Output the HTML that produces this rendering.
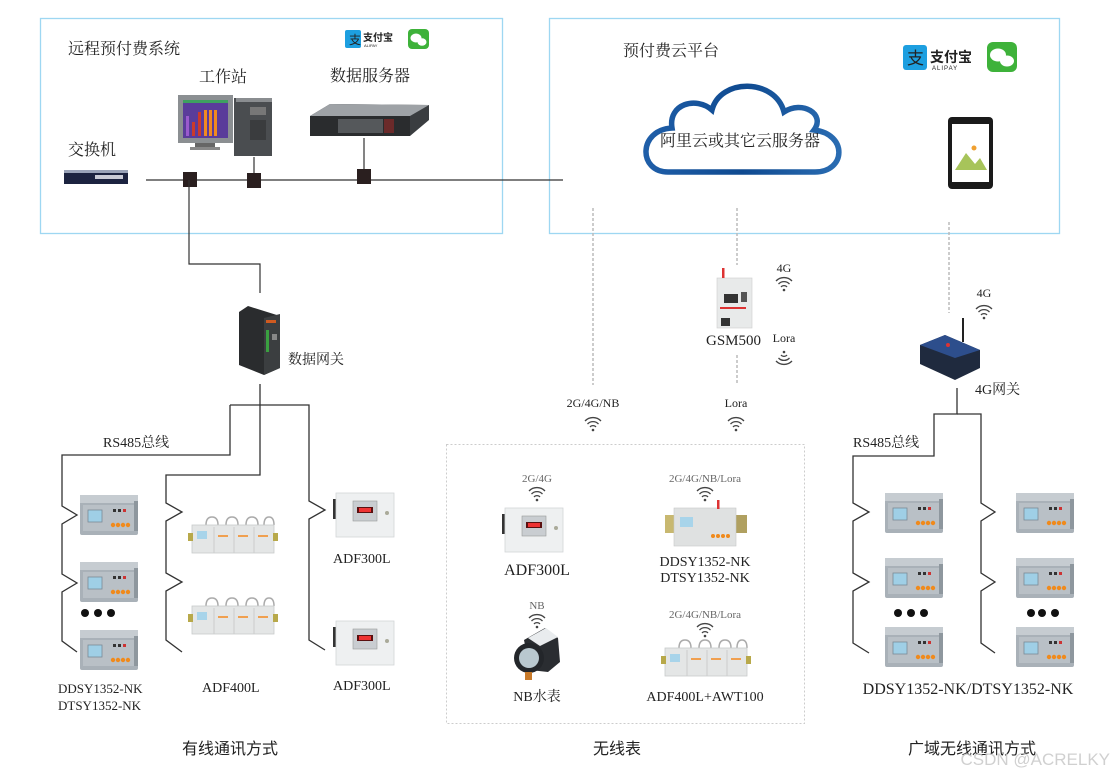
<!DOCTYPE html>
<html><head><meta charset="utf-8"><style>
html,body{margin:0;padding:0;background:#fff;}
svg{display:block;}
.cn{font-family:"Liberation Serif","Noto Serif CJK SC",serif;fill:#222;}
.cs{font-family:"Liberation Sans","Noto Sans CJK SC",sans-serif;fill:#222;}
.m{font-family:"Liberation Serif","Noto Serif CJK SC",serif;fill:#222;}
</style></head><body>
<svg width="1114" height="777" viewBox="0 0 1114 777" xmlns="http://www.w3.org/2000/svg">
<defs>
  <g id="meter">
    <rect x="0" y="0" width="58" height="40" rx="2" fill="#a9b1b8"/>
    <rect x="0" y="0" width="58" height="8" fill="#c6ccd1"/>
    <rect x="3" y="10" width="52" height="26" fill="#b9c0c6"/>
    <rect x="8" y="15" width="14" height="12" fill="#9fcfe6" stroke="#7a8a96" stroke-width="0.8"/>
    <rect x="33" y="14" width="3" height="3" fill="#333"/><rect x="38" y="14" width="3" height="3" fill="#333"/><rect x="43" y="14" width="3" height="3" fill="#c33"/>
    <circle cx="33" cy="30" r="2.2" fill="#f08a1c"/><circle cx="38" cy="30" r="2.2" fill="#f08a1c"/><circle cx="43" cy="30" r="2.2" fill="#f08a1c"/><circle cx="48" cy="30" r="2.2" fill="#f08a1c"/>
    <rect x="54" y="6" width="4" height="30" fill="#8e979e"/>
  </g>
  <g id="adf400">
    <path d="M18,8 q0,-8 6,-8 q6,0 6,8 M38,8 q0,-8 6,-8 q6,0 6,8 M58,8 q0,-8 6,-8 q6,0 6,8 M76,8 q0,-8 5,-8 q5,0 5,8" fill="none" stroke="#aaa" stroke-width="1.5"/>
    <rect x="4" y="8" width="82" height="28" fill="#e4e6e6" stroke="#c8cbcb" stroke-width="0.8"/>
    <rect x="0" y="16" width="5" height="8" fill="#b8a94a"/><rect x="85" y="16" width="5" height="8" fill="#b8a94a"/>
    <rect x="9" y="14" width="10" height="8" fill="#a8d4ea"/>
    <line x1="26" y1="10" x2="26" y2="36" stroke="#ccc"/><line x1="46" y1="10" x2="46" y2="36" stroke="#ccc"/><line x1="66" y1="10" x2="66" y2="36" stroke="#ccc"/>
    <rect x="30" y="18" width="10" height="2" fill="#f0a050"/><rect x="50" y="18" width="10" height="2" fill="#f0a050"/><rect x="70" y="18" width="10" height="2" fill="#f0a050"/>
  </g>
  <g id="adf300">
    <rect x="0" y="6" width="4" height="20" fill="#333"/>
    <rect x="3" y="0" width="58" height="44" fill="#eef0f1" stroke="#d3d6d8" stroke-width="0.8"/>
    <rect x="20" y="8" width="24" height="20" fill="#c9cdd1" stroke="#999" stroke-width="0.6"/>
    <rect x="24" y="14" width="16" height="6" fill="#5a1010"/>
    <rect x="26" y="15" width="12" height="4" fill="#e33"/>
    <circle cx="54" cy="20" r="2" fill="#aa9"/>
  </g>
  <g id="wifi" fill="none" stroke="#444" stroke-width="1.3">
    <path d="M-8,-3 A11,11 0 0 1 8,-3"/>
    <path d="M-5.5,0 A7.5,7.5 0 0 1 5.5,0"/>
    <path d="M-3,3 A4,4 0 0 1 3,3"/>
    <circle cx="0" cy="6" r="1.3" fill="#444" stroke="none"/>
  </g>
  <linearGradient id="cg" x1="0" x2="1"><stop offset="0" stop-color="#1f5ea8"/><stop offset="0.5" stop-color="#0f4a90"/><stop offset="1" stop-color="#2a6cb2"/></linearGradient>
</defs>

<rect x="40.5" y="18.5" width="462" height="215" fill="none" stroke="#9ed7f2" stroke-width="1.3"/>
<rect x="549.5" y="18.5" width="510" height="215" fill="none" stroke="#9ed7f2" stroke-width="1.3"/>

<text x="68" y="54" class="cn" font-size="16">远程预付费系统</text>
<text x="199" y="82" class="cn" font-size="16">工作站</text>
<text x="330" y="81" class="cn" font-size="16">数据服务器</text>
<text x="68" y="155" class="cn" font-size="16">交换机</text>
<rect x="345" y="30" width="16" height="18" rx="2" fill="#1d9fe0"/>
<text x="349" y="44" font-size="12" fill="#fff" class="cs">支</text>
<text x="363" y="41" font-size="10" class="cs" font-weight="bold">支付宝</text>
<text x="364" y="47" font-size="4" class="cs">ALIPAY</text>
<rect x="408" y="29" width="21" height="20" rx="4" fill="#3eb23a"/>
<ellipse cx="416" cy="38" rx="5.5" ry="4.5" fill="#fff"/><ellipse cx="422" cy="42" rx="4.5" ry="3.8" fill="#fff"/>
<rect x="64" y="171" width="64" height="13" fill="#1c2340"/>
<rect x="64" y="170" width="64" height="3" fill="#9aa3b8"/>
<rect x="95" y="175" width="28" height="4" fill="#c9cbd6"/>
<rect x="178" y="95" width="55" height="48" fill="#8b8f92"/>
<rect x="183" y="100" width="45" height="38" fill="#5a3c9a"/>
<rect x="186" y="116" width="3" height="20" fill="#9a5acd"/><rect x="192" y="122" width="3" height="14" fill="#cc3a2a"/><rect x="198" y="112" width="3" height="24" fill="#cc3a2a"/><rect x="204" y="110" width="3" height="26" fill="#f08a20"/><rect x="209" y="110" width="3" height="26" fill="#f08a20"/><rect x="214" y="110" width="3" height="26" fill="#f08a20"/>
<rect x="183" y="100" width="45" height="3" fill="#3ea060"/>
<rect x="195" y="143" width="20" height="5" fill="#666"/>
<rect x="190" y="147" width="30" height="3" fill="#888"/>
<rect x="234" y="98" width="38" height="58" fill="#4a4d50"/>
<rect x="236" y="98" width="36" height="4" fill="#8a8d90"/>
<rect x="250" y="107" width="16" height="8" fill="#777"/>
<rect x="250" y="120" width="16" height="20" fill="#3a3c3e"/>
<polygon points="310,116 330,104 429,105 429,120 410,136 310,136" fill="#3a3d40"/>
<polygon points="310,116 330,104 429,105 410,116" fill="#9ea2a6"/>
<rect x="310" y="116" width="100" height="20" fill="#2a2c2e"/>
<rect x="338" y="119" width="45" height="14" fill="#55585b"/>
<rect x="384" y="119" width="10" height="14" fill="#6b2a2a"/>
<line x1="146" y1="180" x2="563" y2="180" stroke="#333" stroke-width="1.2"/>
<line x1="254" y1="157" x2="254" y2="180" stroke="#333" stroke-width="1.2"/>
<line x1="364" y1="138" x2="364" y2="180" stroke="#333" stroke-width="1.2"/>
<rect x="183" y="172" width="14" height="15" fill="#2a1f1f"/>
<rect x="247" y="173" width="14" height="15" fill="#2a1f1f"/>
<rect x="357" y="169" width="14" height="15" fill="#2a1f1f"/>
<polyline points="189,180 189,264 260,264 260,293" fill="none" stroke="#333" stroke-width="1.2"/>

<polygon points="239,312 248,306 280,316 280,368 264,375 239,365" fill="#2a2c2e"/>
<polygon points="264,318 280,314 280,368 264,375" fill="#3b3e40"/>
<rect x="266" y="330" width="3" height="22" fill="#3aa040"/>
<rect x="272" y="334" width="5" height="6" fill="#888"/>
<rect x="266" y="320" width="10" height="3" fill="#d05a20"/>
<text x="288" y="364" class="cn" font-size="14">数据网关</text>

<g fill="none" stroke="#333" stroke-width="1.3">
  <polyline points="260,384 260,475 166,475 166,503 182,512 166,521 166,573 182,582 166,591 166,640 182,652"/>
  <polyline points="230,405 309,405 309,501 325,510 309,519 309,640 325,650"/>
  <polyline points="230,405 230,455 62,455 62,506 77,515 62,524 62,574 77,583 62,592 62,641 77,652"/>
</g>
<text x="103" y="447" class="m" font-size="14">RS485总线</text>
<use href="#meter" x="80" y="495"/>
<use href="#meter" x="80" y="562"/>
<use href="#meter" x="80" y="630"/>
<circle cx="85" cy="613" r="4" fill="#111"/><circle cx="98" cy="613" r="4" fill="#111"/><circle cx="111" cy="613" r="4" fill="#111"/>
<use href="#adf400" x="188" y="517"/>
<use href="#adf400" x="188" y="598"/>
<use href="#adf300" x="333" y="493"/>
<use href="#adf300" x="333" y="621"/>
<text x="333" y="563" class="m" font-size="14">ADF300L</text>
<text x="333" y="690" class="m" font-size="14">ADF300L</text>
<text x="202" y="692" class="m" font-size="14">ADF400L</text>
<text x="58" y="693" class="m" font-size="13">DDSY1352-NK</text>
<text x="58" y="710" class="m" font-size="13">DTSY1352-NK</text>
<text x="230" y="754" class="cs" font-size="16" text-anchor="middle">有线通讯方式</text>

<text x="623" y="56" class="cn" font-size="16">预付费云平台</text>
<path d="M668,172 C638,172 638,130 672,128 C668,104 696,96 712,110 C720,78 775,78 784,112 C802,100 826,114 814,130 C848,134 846,172 815,172 Z" fill="#fff" stroke="url(#cg)" stroke-width="5.5"/>
<text x="740" y="146" class="cn" font-size="16" text-anchor="middle">阿里云或其它云服务器</text>
<rect x="903" y="45" width="24" height="25" rx="3" fill="#1d9fe0"/>
<text x="907" y="64" font-size="17" fill="#fff" class="cs">支</text>
<text x="930" y="62" font-size="14" class="cs" font-weight="bold">支付宝</text>
<text x="932" y="70" font-size="6" class="cs" letter-spacing="1">ALIPAY</text>
<rect x="987" y="42" width="30" height="30" rx="6" fill="#3eb23a"/>
<ellipse cx="998" cy="55" rx="8" ry="6.5" fill="#fff"/><ellipse cx="1007" cy="61" rx="7" ry="5.5" fill="#fff"/>
<rect x="948" y="117" width="45" height="72" rx="4" fill="#1a1a1a"/>
<rect x="952" y="124" width="37" height="58" fill="#fff"/>
<polygon points="955,170 966,153 975,164 980,158 987,170" fill="#a7c45a"/>
<circle cx="974" cy="148" r="2.5" fill="#f0a030"/>

<g stroke="#bbb" stroke-width="1.5" stroke-dasharray="3,2" fill="none">
  <line x1="593" y1="208" x2="593" y2="385"/>
  <line x1="737" y1="208" x2="737" y2="265"/>
  <line x1="737" y1="355" x2="737" y2="385"/>
  <line x1="949" y1="222" x2="949" y2="313"/>
</g>
<rect x="717" y="278" width="35" height="50" fill="#e8eaea" stroke="#ccc" stroke-width="0.6"/>
<rect x="722" y="268" width="2.5" height="10" fill="#d33"/>
<rect x="724" y="294" width="14" height="9" fill="#333"/>
<rect x="741" y="292" width="6" height="10" fill="#555"/>
<rect x="720" y="307" width="26" height="2" fill="#d33"/>
<rect x="721" y="318" width="9" height="8" fill="#333"/>
<text x="706" y="345" class="m" font-size="15">GSM500</text>
<text x="784" y="272" class="m" font-size="12" text-anchor="middle">4G</text>
<use href="#wifi" x="784" y="284"/>
<text x="784" y="342" class="m" font-size="12" text-anchor="middle">Lora</text>
<use href="#wifi" transform="translate(784,358) scale(1,-1)"/>
<line x1="963" y1="318" x2="963" y2="342" stroke="#222" stroke-width="2"/>
<polygon points="920,345 945,335 980,350 980,368 955,380 920,364" fill="#1f2a3e"/>
<polygon points="920,345 945,335 980,350 955,358" fill="#2d4e8c"/>
<circle cx="948" cy="345" r="2" fill="#d33"/>
<text x="984" y="297" class="m" font-size="12" text-anchor="middle">4G</text>
<use href="#wifi" x="984" y="312"/>
<text x="975" y="394" class="m" font-size="14">4G网关</text>
<text x="593" y="407" class="m" font-size="12" text-anchor="middle">2G/4G/NB</text>
<use href="#wifi" x="593" y="424"/>
<text x="736" y="407" class="m" font-size="12" text-anchor="middle">Lora</text>
<use href="#wifi" x="736" y="424"/>

<rect x="446.5" y="444.5" width="358" height="279" fill="none" stroke="#ccc" stroke-width="1" stroke-dasharray="2,2"/>
<text x="537" y="482" class="m" font-size="11" text-anchor="middle" style="fill:#666">2G/4G</text>
<use href="#wifi" x="537" y="494"/>
<use href="#adf300" x="502" y="508"/>
<text x="537" y="575" class="m" font-size="16" text-anchor="middle">ADF300L</text>
<text x="705" y="482" class="m" font-size="11" text-anchor="middle" style="fill:#666">2G/4G/NB/Lora</text>
<use href="#wifi" x="705" y="494"/>
<rect x="665" y="515" width="10" height="18" fill="#c8b870"/>
<rect x="735" y="515" width="12" height="18" fill="#b0a060"/>
<rect x="674" y="508" width="62" height="38" fill="#dfe1e1" stroke="#c6c9c9" stroke-width="0.6"/>
<rect x="717" y="500" width="2.5" height="9" fill="#d33"/>
<rect x="680" y="517" width="13" height="10" fill="#a8d4ea"/>
<circle cx="713" cy="536" r="2" fill="#f08a1c"/><circle cx="718" cy="536" r="2" fill="#f08a1c"/><circle cx="723" cy="536" r="2" fill="#f08a1c"/><circle cx="728" cy="536" r="2" fill="#f08a1c"/>
<text x="705" y="566" class="m" font-size="14" text-anchor="middle">DDSY1352-NK</text>
<text x="705" y="582" class="m" font-size="14" text-anchor="middle">DTSY1352-NK</text>
<text x="537" y="609" class="m" font-size="11" text-anchor="middle" style="fill:#666">NB</text>
<use href="#wifi" x="537" y="621"/>
<polygon points="524,640 545,628 558,638 560,662 548,672 530,670" fill="#2a2d31"/>
<polygon points="528,638 546,628 558,637 540,646" fill="#e9ecee"/>
<circle cx="529" cy="658" r="15" fill="#23262a"/>
<circle cx="529" cy="658" r="10" fill="#b9c8cf"/>
<rect x="525" y="672" width="7" height="8" fill="#c87a2a"/>
<text x="537" y="701" class="cn" font-size="14" text-anchor="middle">NB水表</text>
<text x="705" y="618" class="m" font-size="11" text-anchor="middle" style="fill:#666">2G/4G/NB/Lora</text>
<use href="#wifi" x="705" y="630"/>
<use href="#adf400" x="661" y="640"/>
<text x="705" y="701" class="m" font-size="14" text-anchor="middle">ADF400L+AWT100</text>
<text x="617" y="754" class="cs" font-size="16" text-anchor="middle">无线表</text>

<g fill="none" stroke="#333" stroke-width="1.3">
  <polyline points="957,388 957,414 934,414 934,456 853,456 853,503 869,512 853,521 853,573 869,582 853,591 853,643 869,653"/>
  <polyline points="957,414 981,414 981,503 995,512 981,521 981,573 995,582 981,591 981,643 995,653"/>
</g>
<text x="853" y="447" class="m" font-size="14">RS485总线</text>
<use href="#meter" x="885" y="493"/>
<use href="#meter" x="885" y="558"/>
<use href="#meter" x="885" y="627"/>
<use href="#meter" x="1016" y="493"/>
<use href="#meter" x="1016" y="558"/>
<use href="#meter" x="1016" y="627"/>
<circle cx="898" cy="613" r="4" fill="#111"/><circle cx="911" cy="613" r="4" fill="#111"/><circle cx="924" cy="613" r="4" fill="#111"/>
<circle cx="1031" cy="613" r="4" fill="#111"/><circle cx="1042" cy="613" r="4" fill="#111"/><circle cx="1055" cy="613" r="4" fill="#111"/>
<text x="968" y="694" class="m" font-size="16" text-anchor="middle">DDSY1352-NK/DTSY1352-NK</text>
<text x="972" y="754" class="cs" font-size="16" text-anchor="middle">广域无线通讯方式</text>
<text x="1110" y="765" class="cs" font-size="17" text-anchor="end" style="fill:#c8c8c8" fill-opacity="0.85">CSDN @ACRELKY</text>
</svg>
</body></html>
